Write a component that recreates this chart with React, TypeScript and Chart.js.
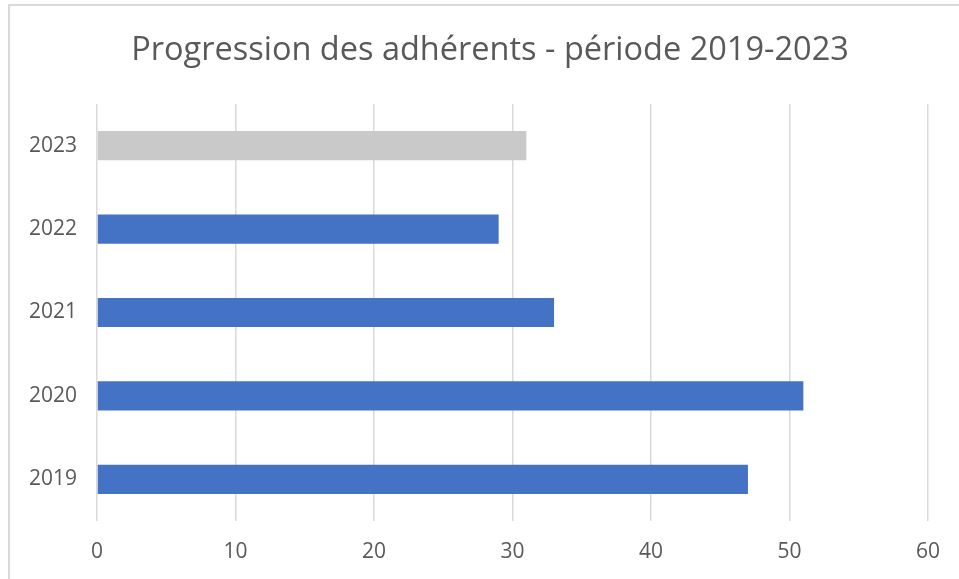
import React, { useEffect, useRef } from "react";
import { Chart, registerables } from "chart.js";

Chart.register(...registerables);

const TITLE = "Progression des adhérents - période 2019-2023";
const YEARS = ["2019", "2020", "2021", "2022", "2023"];
const MEMBERS = [47, 51, 33, 29, 31];
const BAR_COLORS = ["#4472C4", "#4472C4", "#4472C4", "#4472C4", "#C9C9C9"];
const X_MIN = 0;
const X_MAX = 60;
const X_STEP = 10;

const FONT = "'Open Sans', 'DejaVu Sans', sans-serif";
const TEXT = "#595959";

const titlePlugin = {
  id: "centeredTitle",
  afterDraw(chart: any) {
    const ctx = chart.ctx;
    ctx.save();
    ctx.font = `normal 32.5px ${FONT}`;
    ctx.fillStyle = TEXT;
    ctx.textAlign = "center";
    ctx.textBaseline = "middle";
    ctx.fillText(TITLE, 490, 51);
    ctx.restore();
  },
};

export default function App() {
  const ref = useRef<HTMLCanvasElement | null>(null);

  useEffect(() => {
    if (!ref.current) return;
    const chart = new Chart(ref.current, {
      type: "bar",
      data: {
        labels: YEARS,
        datasets: [
          {
            data: MEMBERS,
            backgroundColor: BAR_COLORS,
            borderWidth: 0,
            categoryPercentage: 1,
            barPercentage: 0.35,
          },
        ],
      },
      plugins: [titlePlugin],
      options: {
        indexAxis: "y",
        animation: false,
        responsive: false,
        maintainAspectRatio: false,
        devicePixelRatio: 1,
        layout: { padding: { left: 0, right: 31, top: 104, bottom: 0 } },
        plugins: {
          legend: { display: false },
          tooltip: { enabled: false },
          title: { display: false },
        },
        scales: {
          x: {
            type: "linear",
            min: X_MIN,
            max: X_MAX,
            ticks: {
              stepSize: X_STEP,
              color: TEXT,
              font: { family: FONT, size: 21, lineHeight: 1.2 },
              padding: 18,
            },
            grid: { color: "#D9D9D9", lineWidth: 1.5, drawTicks: false },
            border: { display: false },
            afterFit: (s: any) => {
              s.height = 58;
            },
          },
          y: {
            reverse: true,
            ticks: {
              color: TEXT,
              font: { family: FONT, size: 21, lineHeight: 1.2 },
              padding: 20,
            },
            grid: { display: false, drawTicks: false },
            border: { display: false },
            afterFit: (s: any) => {
              s.width = 97;
            },
          },
        },
      },
    });
    return () => chart.destroy();
  }, []);

  return (
    <div
      style={{
        position: "fixed",
        left: 0,
        top: 0,
        width: 959,
        height: 579,
        background: "#fff",
        overflow: "hidden",
      }}
    >
      <div
        style={{
          position: "absolute",
          left: 8,
          top: 4,
          width: 1000,
          height: 1000,
          borderLeft: "2px solid #D9D9D9",
          borderTop: "2px solid #D9D9D9",
        }}
      />
      <canvas
        ref={ref}
        width={959}
        height={579}
        style={{ position: "absolute", left: 0, top: 0, width: 959, height: 579 }}
      />
    </div>
  );
}
